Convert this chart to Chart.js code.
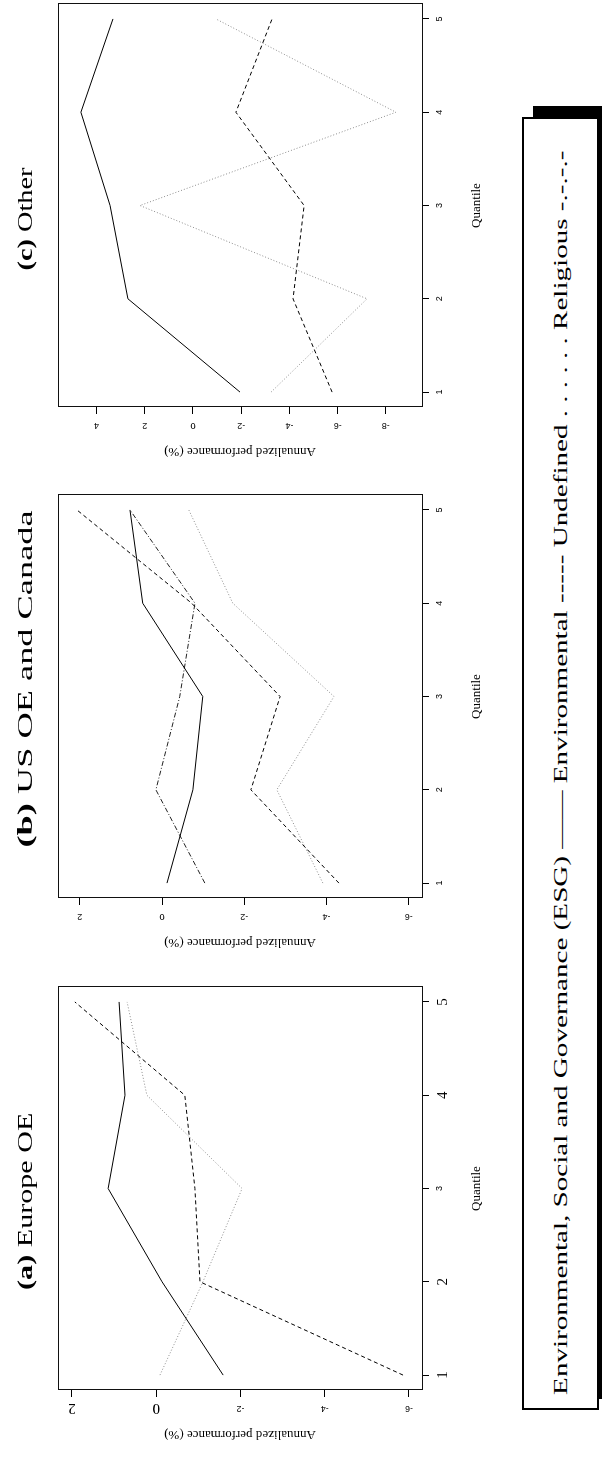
<!DOCTYPE html>
<html>
<head>
<meta charset="utf-8">
<script src="https://cdn.jsdelivr.net/npm/chart.js@4.4.1/dist/chart.umd.min.js"></script>
<style>
  html, body { margin: 0; padding: 0; background: #fff; }
  body { width: 602px; height: 1459px; overflow: hidden; position: relative; }
  /* the figure is laid out upright (1459 x 602) and turned a quarter turn */
  #page { position: absolute; left: 0; top: 0; width: 1459px; height: 602px;
          transform-origin: 0 0; transform: translate(0, 1459px) rotate(-90deg); }
  .panel { position: absolute; top: 0; }
  .panel canvas { display: block; }
  .txt { position: absolute; white-space: nowrap; font-family: "Liberation Serif", serif; color: #000; line-height: 1; }
  .title { font-size: 22px; }
  #legend { position: absolute; left: 49px; top: 522px; width: 1293px; height: 77px;
            box-sizing: border-box; border: 2px solid #000; background: #fff;
            box-shadow: 11px 11px 0 #000; }
  #legendText { font-size: 19px; }
</style>
</head>
<body>
<div id="page">
  <div class="panel" id="panel-a"><canvas id="chart-a" width="477" height="500"></canvas></div>
  <div class="panel" id="panel-b"><canvas id="chart-b" width="477" height="500"></canvas></div>
  <div class="panel" id="panel-c"><canvas id="chart-c" width="477" height="500"></canvas></div>
  <div class="txt title" id="title-a"><b>(a)</b> Europe OE</div>
  <div class="txt title" id="title-b"><b>(b)</b> US OE and Canada</div>
  <div class="txt title" id="title-c"><b>(c)</b> Other</div>
  <div id="legend"></div>
  <div class="txt" id="legendText">Environmental, Social and Governance (ESG) —— Environmental ----- Undefined . . . . . . Religious -.-.-.-</div>
</div>
<script>
(function() {
  // Quantiles on the x axis
  const quantiles = [1, 2, 3, 4, 5];

  // (a) Europe OE
  const europeEsg   = [-1.59, -0.14, 1.14, 0.74, 0.88];
  const europeEnv   = [-5.86, -1.04, -0.92, -0.68, 1.93];
  const europeUndef = [-0.09, -1.11, -2.04, 0.22, 0.69];
  const europeTicks = [2, 0, -2, -4, -6];

  // (b) US OE and Canada
  const usEsg   = [-0.12, -0.75, -0.99, 0.47, 0.78];
  const usEnv   = [-4.30, -2.16, -2.87, -0.72, 2.07];
  const usUndef = [-3.91, -2.79, -4.18, -1.72, -0.65];
  const usRel   = [-1.04, 0.15, -0.43, -0.80, 0.78];
  const usTicks = [2, 0, -2, -4, -6];

  // (c) Other
  const otherEsg   = [-1.95, 2.70, 3.44, 4.65, 3.32];
  const otherEnv   = [-5.77, -4.15, -4.61, -1.78, -3.28];
  const otherUndef = [-3.24, -7.22, 2.20, -8.42, -0.95];
  const otherTicks = [4, 2, 0, -2, -4, -6, -8];

  const serif = '"Liberation Serif", serif';
  const sans = '"Liberation Sans", Arial, sans-serif';

  const styles = {
    esg:   { color: '#000', dash: [] },
    env:   { color: '#000', dash: [4, 3] },
    undef: { color: '#8c8c8c', dash: [1, 2] },
    rel:   { color: '#222', dash: [5, 2, 1, 2] }
  };

  function toPoints(values) {
    return values.map((v, i) => ({ x: quantiles[i], y: v }));
  }

  function makeDataset(label, values, style) {
    return {
      label: label,
      data: toPoints(values),
      borderColor: style.color,
      borderDash: style.dash,
      borderWidth: 1,
      pointRadius: 0,
      tension: 0,
      fill: false
    };
  }

  // box round the plotting area
  const framePlugin = {
    id: 'frame',
    afterDraw(chart) {
      const a = chart.chartArea;
      const ctx = chart.ctx;
      ctx.save();
      ctx.strokeStyle = '#111';
      ctx.lineWidth = 1;
      ctx.strokeRect(Math.round(a.left) + 0.5, Math.round(a.top) + 0.5,
                     Math.round(a.right - a.left), Math.round(a.bottom - a.top));
      ctx.restore();
    }
  };

  function smallFont() { return { family: sans, size: 9 }; }

  function buildChart(id, datasets, yTicks, yMin, yMax, bigY, bigX) {
    const ctx = document.getElementById(id);
    return new Chart(ctx, {
      type: 'line',
      data: { datasets: datasets },
      options: {
        responsive: false,
        animation: false,
        events: [],
        layout: { padding: { top: 58, right: 10, bottom: 0, left: 0 } },
        plugins: { legend: { display: false }, tooltip: { enabled: false } },
        scales: {
          x: {
            type: 'linear',
            min: 0.84,
            max: 5.16,
            afterBuildTicks: s => { s.ticks = quantiles.map(v => ({ value: v })); },
            afterFit: s => { s.height = 78; },
            grid: { display: true, drawOnChartArea: false, drawTicks: true, tickLength: 7, color: '#000' },
            border: { display: false },
            ticks: {
              padding: 5,
              color: '#000',
              maxRotation: 0,
              font: c => (bigX && bigX.includes(c.tick && c.tick.value)) ? { family: serif, size: 15 } : smallFont(),
              callback: v => String(v)
            },
            title: { display: true, text: 'Quantile', color: '#000',
                     font: { family: serif, size: 13 }, padding: { top: 0, bottom: 16 } }
          },
          y: {
            type: 'linear',
            min: yMin,
            max: yMax,
            afterBuildTicks: s => { s.ticks = yTicks.map(v => ({ value: v })); },
            afterFit: s => { s.width = 64; },
            grid: { display: true, drawOnChartArea: false, drawTicks: true, tickLength: 7, color: '#000' },
            border: { display: false },
            ticks: {
              padding: 7,
              color: '#000',
              minRotation: 90,
              maxRotation: 90,
              crossAlign: 'center',
              font: c => (bigY && bigY.includes(c.tick && c.tick.value)) ? { family: serif, size: 15 } : smallFont(),
              callback: v => String(v)
            },
            title: { display: true, text: 'Annualized performance (%)', color: '#000',
                     font: { family: serif, size: 13 }, padding: { top: 12, bottom: 0 } }
          }
        }
      },
      plugins: [framePlugin]
    });
  }

  function placePanel(id, boxLeft) {
    const el = document.getElementById(id);
    el.style.left = (boxLeft - 64) + 'px';
  }

  // text is stretched along the long side like the source
  function placeText(id, cx, cy, width) {
    const el = document.getElementById(id);
    const w = el.offsetWidth, h = el.offsetHeight;
    el.style.left = (cx - w / 2) + 'px';
    el.style.top = (cy - h / 2) + 'px';
    el.style.transformOrigin = '50% 50%';
    el.style.transform = 'scaleX(' + (width / w) + ')';
  }

  function init() {
    placePanel('panel-a', 69);
    placePanel('panel-b', 561);
    placePanel('panel-c', 1052);

    buildChart('chart-a', [
      makeDataset('ESG', europeEsg, styles.esg),
      makeDataset('Environmental', europeEnv, styles.env),
      makeDataset('Undefined', europeUndef, styles.undef)
    ], europeTicks, -6.31, 2.33, [2, 0], [1, 2, 4, 5]);

    buildChart('chart-b', [
      makeDataset('ESG', usEsg, styles.esg),
      makeDataset('Environmental', usEnv, styles.env),
      makeDataset('Undefined', usUndef, styles.undef),
      makeDataset('Religious', usRel, styles.rel)
    ], usTicks, -6.32, 2.53, null, null);

    buildChart('chart-c', [
      makeDataset('ESG', otherEsg, styles.esg),
      makeDataset('Environmental', otherEnv, styles.env),
      makeDataset('Undefined', otherUndef, styles.undef)
    ], otherTicks, -9.50, 5.60, null, null);

    placeText('title-a', 258, 25, 178);
    placeText('title-b', 780, 25, 337);
    placeText('title-c', 1240, 25, 103);
    placeText('legendText', 686, 560, 1245);
  }

  if (document.readyState === 'loading') {
    document.addEventListener('DOMContentLoaded', init);
  } else {
    init();
  }
})();
</script>
</body>
</html>
